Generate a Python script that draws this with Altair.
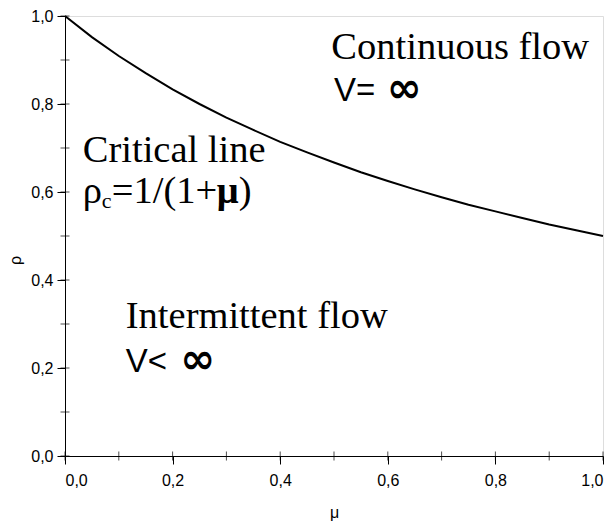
import altair as alt
import pandas as pd

# curve (critical line)
mu = [0.0, 0.05, 0.1, 0.15, 0.2, 0.25, 0.3, 0.35, 0.4, 0.45, 0.5, 0.55, 0.6, 0.65, 0.7, 0.75, 0.8, 0.85, 0.9, 0.95, 1.0]
rho = [1.0, 0.952, 0.909, 0.870, 0.833, 0.800, 0.769, 0.741, 0.714, 0.690, 0.667, 0.645, 0.625, 0.606, 0.588, 0.571, 0.556, 0.541, 0.526, 0.513, 0.5]

major_ticks = [0.0, 0.2, 0.4, 0.6, 0.8, 1.0]
all_ticks = [0.0, 0.1, 0.2, 0.3, 0.4, 0.5, 0.6, 0.7, 0.8, 0.9, 1.0]

# annotation texts and their anchor positions (data coordinates)
serif_texts = ["Continuous flow", "Critical line", "Intermittent flow"]
serif_x = [0.495, 0.033, 0.113]
serif_y = [0.903, 0.668, 0.291]

sym_texts = ["V=", "V<"]
sym_x = [0.500, 0.113]
sym_y = [0.806, 0.191]
inf_x = [0.598, 0.214]

curve = pd.DataFrame({"mu": mu, "rho": rho})
ticks = pd.DataFrame({"t": all_ticks})
serif = pd.DataFrame({"label": serif_texts, "x": serif_x, "y": serif_y})
sym = pd.DataFrame({"label": sym_texts, "x": sym_x, "y": sym_y, "ix": inf_x})
formula = pd.DataFrame({"x": [0.033], "y": [0.575]})

label_expr = "replace(format(datum.value, '.1f'), '.', ',')"
xscale = alt.Scale(domain=[0, 1], nice=False, zero=False)
yscale = alt.Scale(domain=[0, 1], nice=False, zero=False)

axis_common = dict(
    grid=False, domainColor="black", tickColor="black", tickSize=8,
    labelFont="Liberation Sans", labelFontSize=16, labelColor="black",
    titleFont="Liberation Sans", titleFontSize=16, titleFontWeight="normal",
    titleColor="black", labelExpr=label_expr, values=major_ticks,
)

base_line = alt.Chart(curve).mark_line(color="black", strokeWidth=2).encode(
    x=alt.X("mu:Q", scale=xscale,
            axis=alt.Axis(title="μ", labelPadding=8, titleY=48, **axis_common)),
    y=alt.Y("rho:Q", scale=yscale,
            axis=alt.Axis(title="ρ", labelPadding=4, titleX=-42, titleY=244, **axis_common)),
)

xticks = alt.Chart(ticks).mark_tick(orient="vertical", color="black", size=9, thickness=1).encode(
    x=alt.X("t:Q", scale=xscale), y=alt.datum(0)
)
yticks = alt.Chart(ticks).mark_tick(orient="horizontal", color="black", size=9, thickness=1).encode(
    y=alt.Y("t:Q", scale=yscale), x=alt.datum(0)
)

serif_text = alt.Chart(serif).mark_text(
    align="left", baseline="alphabetic", font="Liberation Serif", fontSize=38.5, color="black"
).encode(x="x:Q", y="y:Q", text="label:N")

sym_text = alt.Chart(sym).mark_text(
    align="left", baseline="alphabetic", font="Liberation Sans", fontSize=33, color="black"
).encode(x="x:Q", y="y:Q", text="label:N")

inf_text = alt.Chart(sym).mark_text(
    align="left", baseline="alphabetic", font="DejaVu Sans", fontSize=42, fontWeight="bold", color="black", dy=1
).encode(x="ix:Q", y="y:Q", text=alt.value("∞"))

f_rho = alt.Chart(formula).mark_text(
    align="left", baseline="alphabetic", font="Liberation Serif", fontSize=38.5, color="black"
).encode(x="x:Q", y="y:Q", text=alt.value("ρ"))
f_sub = alt.Chart(formula).mark_text(
    align="left", baseline="alphabetic", font="Liberation Serif", fontSize=22, color="black", dx=19, dy=5
).encode(x="x:Q", y="y:Q", text=alt.value("c"))
f_rest = alt.Chart(formula).mark_text(
    align="left", baseline="alphabetic", font="Liberation Serif", fontSize=38.5, color="black", dx=29
).encode(x="x:Q", y="y:Q", text=alt.value("=1/(1+"))
f_mu = alt.Chart(formula).mark_text(
    align="left", baseline="alphabetic", font="Liberation Serif", fontSize=38.5, fontWeight="bold", color="black", dx=134
).encode(x="x:Q", y="y:Q", text=alt.value("μ"))
f_close = alt.Chart(formula).mark_text(
    align="left", baseline="alphabetic", font="Liberation Serif", fontSize=38.5, color="black", dx=156
).encode(x="x:Q", y="y:Q", text=alt.value(")"))

chart = alt.layer(
    base_line, xticks, yticks, serif_text, sym_text, inf_text,
    f_rho, f_sub, f_rest, f_mu, f_close,
).properties(
    width=538, height=440,
    autosize=alt.AutoSizeParams(type="none"),
    padding={"left": 57, "top": 8, "right": 3, "bottom": 68},
).configure_view(stroke="#777777", strokeWidth=1).configure(background="white")

chart.save("out.html", embed_options={"renderer": "svg", "actions": False})
